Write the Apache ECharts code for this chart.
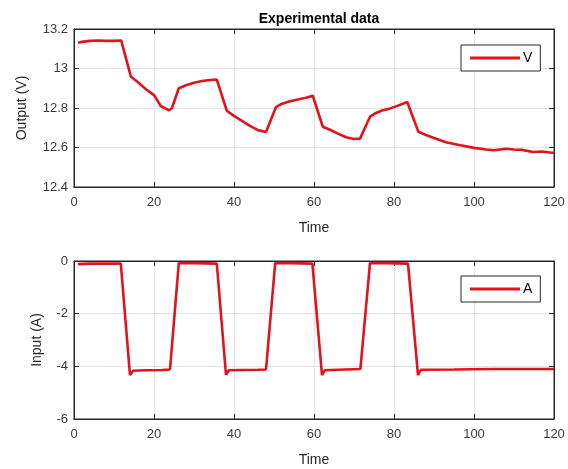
<!DOCTYPE html>
<html><head><meta charset="utf-8">
<script src="https://cdn.jsdelivr.net/npm/echarts@6/dist/echarts.min.js"></script>
<style>html,body{margin:0;padding:0;background:#fff;}#c{width:568px;height:469px;}</style>
</head><body><div id="c"></div>
<script>
var timeV = [1, 2, 4, 6, 8, 10, 11.8, 14.2, 16, 18, 20, 21.7, 23.8, 24.5, 26.2, 28, 30, 32, 34, 35.7, 38.2, 40, 42, 44, 46, 48, 50.5, 52, 54, 56, 58, 59.7, 62.2, 64, 66, 68, 70, 71.5, 74, 75.5, 77, 79, 81, 83.3, 86.1, 88, 90, 93, 96, 100, 103, 105, 108, 110, 112, 114.8, 117, 120];
var valuesV = [13.13, 13.135, 13.14, 13.142, 13.14, 13.14, 13.142, 12.96, 12.93, 12.895, 12.865, 12.81, 12.788, 12.80, 12.90, 12.915, 12.928, 12.937, 12.942, 12.944, 12.786, 12.76, 12.735, 12.71, 12.688, 12.678, 12.805, 12.822, 12.834, 12.843, 12.852, 12.862, 12.705, 12.69, 12.67, 12.652, 12.643, 12.645, 12.756, 12.775, 12.787, 12.798, 12.812, 12.83, 12.68, 12.663, 12.648, 12.627, 12.614, 12.598, 12.59, 12.586, 12.594, 12.59, 12.588, 12.577, 12.58, 12.572];
var timeA = [1, 4, 8, 11.7, 14.0, 14.8, 18, 22, 24.0, 26.2, 30, 35.7, 38.0, 38.7, 42, 46, 48.0, 50.3, 54, 59.6, 62.0, 62.7, 66, 71.6, 74.0, 78, 83.5, 86.0, 86.7, 95, 105, 115, 120];
var valuesA = [-0.12, -0.1, -0.1, -0.1, -4.33, -4.17, -4.15, -4.14, -4.12, -0.08, -0.08, -0.1, -4.32, -4.15, -4.14, -4.13, -4.12, -0.08, -0.08, -0.1, -4.33, -4.15, -4.13, -4.1, -0.08, -0.08, -0.1, -4.33, -4.13, -4.12, -4.1, -4.1, -4.1];
var xTicks = [0, 20, 40, 60, 80, 100, 120];
var yTicksV = [12.4, 12.6, 12.8, 13, 13.2];
var yTicksA = [-6, -4, -2, 0];

function zip(a, b) { return a.map(function (t, i) { return [t, b[i]]; }); }
var FONT = 'Liberation Sans';
var txt = '#3a3a3a';
var lineColor = '#e0141c';
var axLine = { show: true, onZero: false, lineStyle: { color: '#262626', width: 1 } };
var tick = { show: true, inside: true, length: 5, lineStyle: { color: '#262626' } };
var split = { show: true, lineStyle: { color: '#e3e3e3', width: 1 } };

function xMain(gi) {
  return { type: 'value', gridIndex: gi, min: 0, max: 120, interval: 20, position: 'bottom',
    name: 'Time', nameLocation: 'middle', nameGap: 34,
    nameTextStyle: { fontFamily: FONT, fontSize: 14, color: '#262626' },
    axisLine: axLine, axisTick: tick, splitLine: split,
    axisLabel: { fontFamily: FONT, fontSize: 13, color: txt, margin: 9 } };
}
function xTop(gi) {
  return { type: 'value', gridIndex: gi, min: 0, max: 120, interval: 20, position: 'top',
    axisLine: axLine, axisTick: tick, splitLine: { show: false }, axisLabel: { show: false } };
}
function yMain(gi, min, max, itv, name, gap) {
  return { type: 'value', gridIndex: gi, min: min, max: max, interval: itv, position: 'left',
    name: name, nameLocation: 'middle', nameGap: gap,
    nameTextStyle: { fontFamily: FONT, fontSize: 14, color: '#262626' },
    axisLine: axLine, axisTick: tick, splitLine: split,
    axisLabel: { fontFamily: FONT, fontSize: 13, color: txt, margin: 6,
      formatter: function (v) { return String(Math.round(v * 10) / 10); } } };
}
function yRight(gi, min, max, itv) {
  return { type: 'value', gridIndex: gi, min: min, max: max, interval: itv, position: 'right',
    axisLine: axLine, axisTick: tick, splitLine: { show: false }, axisLabel: { show: false } };
}
function legendFor(name, top) {
  return { data: [{ name: name, icon: 'rect' }], left: 461, top: top, orient: 'vertical',
    itemWidth: 50, itemHeight: 3, padding: [6, 8, 6, 9],
    borderColor: '#262626', borderWidth: 1, backgroundColor: '#fff',
    textStyle: { fontFamily: FONT, fontSize: 14, color: '#000', padding: [2, 0, 0, -2] } };
}

var chart = echarts.init(document.getElementById('c'), null, { renderer: 'canvas' });
chart.setOption({
  animation: false,
  backgroundColor: '#fff',
  title: { text: 'Experimental data', left: 314, textAlign: 'center', top: 7,
    textStyle: { fontFamily: FONT, fontSize: 14, fontWeight: 'bold', color: '#000' } },
  grid: [
    { left: 74, top: 29, width: 480, height: 158, show: true, borderColor: '#262626', borderWidth: 1, backgroundColor: '#fff' },
    { left: 74, top: 261, width: 480, height: 158, show: true, borderColor: '#262626', borderWidth: 1, backgroundColor: '#fff' }
  ],
  legend: [legendFor('V', 45), legendFor('A', 276)],
  xAxis: [xMain(0), xMain(1), xTop(0), xTop(1)],
  yAxis: [yMain(0, 12.4, 13.2, 0.2, 'Output (V)', 45), yMain(1, -6, 0, 2, 'Input (A)', 30),
          yRight(0, 12.4, 13.2, 0.2), yRight(1, -6, 0, 2)],
  series: [
    { name: 'V', type: 'line', xAxisIndex: 0, yAxisIndex: 0, data: zip(timeV, valuesV),
      symbol: 'none', lineStyle: { color: lineColor, width: 2.6 }, itemStyle: { color: lineColor } },
    { name: 'A', type: 'line', xAxisIndex: 1, yAxisIndex: 1, data: zip(timeA, valuesA),
      symbol: 'none', lineStyle: { color: lineColor, width: 2.6 }, itemStyle: { color: lineColor } }
  ]
});
</script>
</body></html>
